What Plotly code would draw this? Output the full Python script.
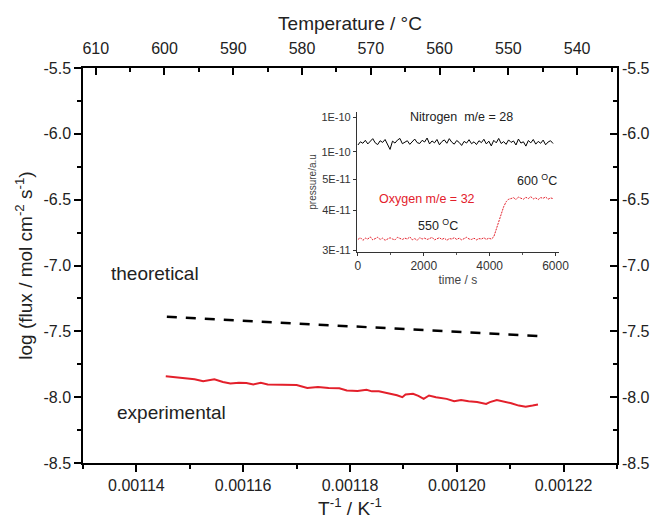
import plotly.graph_objects as go

# ---------------- data ----------------
theo_x = [0.0011457, 0.0012152]
theo_y = [-7.39, -7.535]

exp_x = [0.0011455, 0.0011489, 0.0011509, 0.0011525, 0.0011546, 0.0011562, 0.0011576, 0.0011592,
         0.0011606, 0.0011619, 0.0011633, 0.0011646, 0.0011666, 0.0011686, 0.0011700, 0.0011720,
         0.0011740, 0.0011760, 0.0011780, 0.0011794, 0.0011814, 0.0011831, 0.0011841, 0.0011854,
         0.0011874, 0.0011888, 0.0011898, 0.0011904, 0.0011918, 0.0011928, 0.0011938, 0.0011948,
         0.0011961, 0.0011981, 0.0011995, 0.0012008, 0.0012022, 0.0012038, 0.0012055, 0.0012062,
         0.0012075, 0.0012089, 0.0012102, 0.0012116, 0.0012129, 0.0012142, 0.0012152]
exp_y = [-7.841, -7.854, -7.864, -7.879, -7.864, -7.885, -7.897, -7.890, -7.892, -7.903,
         -7.890, -7.903, -7.903, -7.903, -7.908, -7.931, -7.923, -7.931, -7.933, -7.949,
         -7.954, -7.944, -7.956, -7.956, -7.974, -7.985, -8.000, -7.979, -7.974, -7.990,
         -8.013, -7.987, -8.000, -8.013, -8.031, -8.021, -8.031, -8.036, -8.051, -8.038,
         -8.021, -8.031, -8.046, -8.064, -8.072, -8.064, -8.056]

x_ticks = [0.00114, 0.00116, 0.00118, 0.00120, 0.00122]
y_ticks = [-5.5, -6.0, -6.5, -7.0, -7.5, -8.0, -8.5]
temp_ticks = [610, 600, 590, 580, 570, 560, 550, 540]

# inset: time (s) and pressure (a.u., in units of 1e-11)
inset_time = [i * 75 for i in range(80)]
nitrogen = [6.40, 6.55, 6.48, 6.62, 6.45, 6.58, 6.70, 6.50, 6.42, 6.60,
            6.52, 6.66, 6.44, 6.20, 6.58, 6.49, 6.63, 6.71, 6.46, 6.55,
            6.60, 6.43, 6.57, 6.68, 6.51, 6.47, 6.62, 6.54, 6.73, 6.45,
            6.59, 6.50, 6.66, 6.41, 6.56, 6.64, 6.48, 6.70, 6.53, 6.44,
            6.61, 6.52, 6.38, 6.57, 6.49, 6.65, 6.46, 6.55, 6.42, 6.60,
            6.51, 6.67, 6.45, 6.58, 6.36, 6.62, 6.50, 6.71, 6.47, 6.56,
            6.43, 6.64, 6.52, 6.59, 6.40, 6.68, 6.49, 6.55, 6.35, 6.61,
            6.50, 6.66, 6.44, 6.57, 6.48, 6.63, 6.41, 6.54, 6.60, 6.47]
oxygen = [3.24, 3.28, 3.22, 3.27, 3.25, 3.30, 3.23, 3.26, 3.29, 3.24,
          3.27, 3.22, 3.26, 3.28, 3.25, 3.23, 3.29, 3.26, 3.24, 3.27,
          3.25, 3.30, 3.23, 3.26, 3.22, 3.28, 3.25, 3.27, 3.24, 3.26,
          3.29, 3.23, 3.25, 3.28, 3.24, 3.27, 3.22, 3.26, 3.25, 3.28,
          3.24, 3.27, 3.23, 3.26, 3.29, 3.25, 3.24, 3.27, 3.23, 3.26,
          3.25, 3.28, 3.24, 3.27, 3.25,
          3.30, 3.50, 3.70, 3.90, 4.10, 4.25, 4.33,
          4.35, 4.38, 4.32, 4.40, 4.36, 4.33, 4.39, 4.35, 4.41, 4.34,
          4.37, 4.32, 4.38, 4.36, 4.40, 4.33, 4.37, 4.35]
inset_time_ticks = [0, 2000, 4000, 6000]
inset_p_tickvals = [3e-11, 4e-11, 5e-11, 6.1e-11, 7.8e-11]
inset_p_ticktext = ["3E-11", "4E-11", "5E-11", "1E-10", "1E-10"]

FONT = "Liberation Sans, Arial, sans-serif"
RED = "#e3202b"
TXT = "#222"

fig = go.Figure()
fig.add_trace(go.Scatter(x=theo_x, y=theo_y, mode="lines",
                         line=dict(color="black", width=2.5, dash="10px,9px"),
                         showlegend=False, hoverinfo="skip"))
fig.add_trace(go.Scatter(x=exp_x, y=exp_y, mode="lines",
                         line=dict(color=RED, width=2), showlegend=False))
# carrier for top / right axes
fig.add_trace(go.Scatter(x=[temp_ticks[0], temp_ticks[-1]], y=[y_ticks[0], y_ticks[-1]],
                         xaxis="x2", yaxis="y2", mode="markers",
                         marker=dict(opacity=0), showlegend=False, hoverinfo="skip"))
# inset traces
fig.add_trace(go.Scatter(x=inset_time, y=[v * 1e-11 for v in nitrogen], xaxis="x3", yaxis="y3",
                         mode="lines", line=dict(color="black", width=1), showlegend=False))
fig.add_trace(go.Scatter(x=inset_time, y=[v * 1e-11 for v in oxygen], xaxis="x3", yaxis="y3",
                         mode="lines", line=dict(color=RED, width=1, dash="2px,1px"), showlegend=False))

axis_common = dict(showgrid=False, zeroline=False, showline=True, linecolor="black",
                   linewidth=1.5, tickcolor="black", tickwidth=1.5, automargin=False,
                   tickfont=dict(family=FONT, size=16, color=TXT))

fig.update_layout(
    width=658, height=527,
    margin=dict(l=83, r=41, t=68, b=64),
    paper_bgcolor="white", plot_bgcolor="white",
    font=dict(family=FONT, color=TXT),
    xaxis=dict(**axis_common, domain=[0, 1], range=[0.00113, 0.00123],
               tickvals=x_ticks, ticktext=[f"{v:.5f}" for v in x_ticks],
               ticks="outside", ticklen=7,
               minor=dict(dtick=0.00001, tick0=0.00113, ticks="outside", ticklen=4,
                          tickcolor="black", tickwidth=1.5),
               title=dict(text="T<sup>-1</sup> / K<sup>-1</sup>", font=dict(size=19), standoff=9),
               anchor="y"),
    yaxis=dict(**axis_common, range=[-8.5, -5.5],
               tickvals=y_ticks, ticktext=[f"{v:.1f}" for v in y_ticks],
               ticks="outside", ticklen=7,
               minor=dict(dtick=0.25, tick0=-8.5, ticks="outside", ticklen=4,
                          tickcolor="black", tickwidth=1.5),
               title=dict(text="log (flux / mol cm<sup>-2</sup> s<sup>-1</sup>)",
                          font=dict(size=19), standoff=6),
               anchor="x"),
    xaxis2=dict(**axis_common, overlaying="x", side="top", anchor="y",
                range=[611.85, 534.2], tickvals=temp_ticks,
                ticktext=[str(v) for v in temp_ticks],
                ticks="inside", ticklen=7, ticklabelstandoff=6,
                minor=dict(dtick=5, tick0=540, ticks="inside", ticklen=4,
                           tickcolor="black", tickwidth=1.5),
                title=dict(text="Temperature / °C", font=dict(size=19), standoff=4)),
    yaxis2=dict(**axis_common, overlaying="y", side="right", anchor="x",
                range=[-8.5, -5.5], tickvals=y_ticks,
                ticktext=[f"{v:.1f}" for v in y_ticks],
                ticks="inside", ticklen=7,
                minor=dict(dtick=0.25, tick0=-8.5, ticks="inside", ticklen=4,
                           tickcolor="black", tickwidth=1.5)),
    xaxis3=dict(showgrid=False, zeroline=False, showline=True, linecolor="#333", linewidth=1,
                domain=[0.513, 0.891], anchor="y3", range=[-30, 6100],
                tickvals=inset_time_ticks, ticks="outside", ticklen=3, tickcolor="#333",
                minor=dict(dtick=1000, ticks="outside", ticklen=2, tickcolor="#555"),
                tickfont=dict(family=FONT, size=12, color="#333"),
                title=dict(text="time / s", font=dict(size=12, color="#444"), standoff=2)),
    yaxis3=dict(showgrid=False, zeroline=False, showline=True, linecolor="#333", linewidth=1,
                domain=[0.534, 0.889], anchor="x3", type="log", range=[-10.529, -10.09],
                tickvals=inset_p_tickvals, ticktext=inset_p_ticktext,
                ticks="outside", ticklen=3, tickcolor="#333",
                tickfont=dict(family=FONT, size=11, color="#333"),
                title=dict(text="pressure/a.u", font=dict(size=10, color="#444"), standoff=2)),
)

fig.add_annotation(x=0.0011349, y=-7.057, xref="x", yref="y", text="theoretical",
                   showarrow=False, xanchor="left", font=dict(size=19, color=TXT))
fig.add_annotation(x=0.0011360, y=-8.12, xref="x", yref="y", text="experimental",
                   showarrow=False, xanchor="left", font=dict(size=19, color=TXT))
fig.add_annotation(x=3160, y=-10.107, xref="x3", yref="y3", text="Nitrogen  m/e = 28",
                   showarrow=False, font=dict(size=12.5, color=TXT))
fig.add_annotation(x=2100, y=-10.364, xref="x3", yref="y3", text="Oxygen m/e = 32",
                   showarrow=False, font=dict(size=12.5, color=RED))
fig.add_annotation(x=5430, y=-10.304, xref="x3", yref="y3", text="600 <sup>O</sup>C",
                   showarrow=False, font=dict(size=12.5, color=TXT))
fig.add_annotation(x=2430, y=-10.445, xref="x3", yref="y3", text="550 <sup>O</sup>C",
                   showarrow=False, font=dict(size=12.5, color=TXT))

fig.write_html("out.html")
